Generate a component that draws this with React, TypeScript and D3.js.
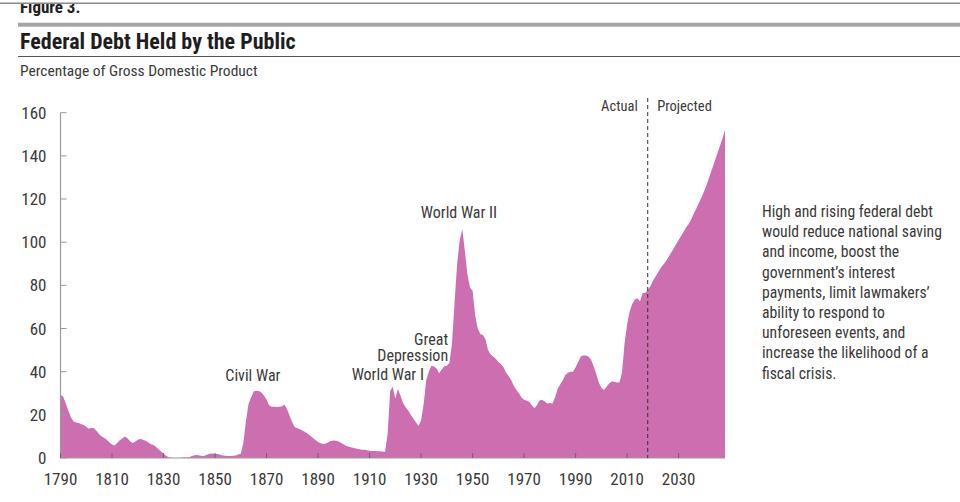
import * as d3 from "d3";

// Federal debt held by the public, % of GDP (CBO). Actual through 2018, projected after.
const firstYear = 1790;
const lastYear = 2048;
const projectionStart = 2018;

const debtShare: number[] = [
  // 1790s
  29.3, 28.5, 25.5, 22, 19, 17, 16.5, 16.2, 15.8, 15.3,
  // 1800s
  14.5, 13.5, 14, 13.8, 12.5, 11, 10, 9.3, 8.5, 7.2,
  // 1810s
  6.2, 5.8, 7, 8.2, 9, 10, 9.2, 7.8, 6.9, 7.5,
  // 1820s
  8.5, 8.8, 8.4, 8, 7.3, 6.5, 6, 5.2, 4.2, 3.1,
  // 1830s
  2, 1, 0.4, 0.1, 0, 0, 0, 0.1, 0.3, 0.2,
  // 1840s
  0.4, 0.9, 1.3, 1.4, 1.2, 0.9, 1.1, 1.6, 2.0, 2.1,
  // 1850s
  1.9, 1.8, 1.5, 1.2, 1.0, 0.9, 0.9, 1.0, 1.2, 1.6,
  // 1860s
  2, 7, 17, 25, 28, 30.8, 31.2, 31, 30.3, 29,
  // 1870s
  27, 24.5, 23.8, 23.7, 23.6, 23.8, 24, 24.7, 22.5, 19.5,
  // 1880s
  16.5, 14.2, 13.8, 13.3, 12.6, 12, 11.2, 10.3, 9.3, 8.3,
  // 1890s
  7.4, 6.8, 6.5, 6.7, 7.3, 7.9, 8.1, 8.0, 7.7, 7,
  // 1900s
  6.2, 5.6, 5.2, 4.9, 4.6, 4.3, 4.0, 3.8, 3.8, 3.6,
  // 1910s
  3.4, 3.3, 3.2, 3.1, 3.1, 3.0, 2.8, 11, 31, 33,
  // 1920s
  27.5, 32, 29, 25.5, 23.5, 22, 20, 18.2, 16.6, 14.8,
  // 1930s
  17.5, 25, 36, 40, 42.8, 42.4, 41.5, 39.3, 41, 42.4,
  // 1940s
  42.8, 44, 53, 72, 90, 101, 106, 96, 85, 79,
  // 1950s
  77.5, 66, 60, 57.5, 57, 55, 50, 48, 47, 46,
  // 1960s
  44.5, 43.5, 42, 39.5, 38, 36, 33.5, 31.5, 30, 28,
  // 1970s
  27, 26.5, 26, 24.5, 23, 24.5, 26.7, 27, 26.2, 25.3,
  // 1980s
  25.5, 25.3, 28, 32, 34, 36, 38.5, 39.5, 40, 40,
  // 1990s
  42, 44.5, 47, 47.5, 47.5, 47, 45.5, 42.5, 39, 35,
  // 2000s
  32.5, 31.5, 33, 34.5, 35.5, 35.3, 35, 35, 39.5, 53,
  // 2010s
  62, 68, 71.5, 73.5, 74, 72.5, 76.4, 76.5, 78, 79.5,
  // 2020s
  82, 84, 86, 88, 89.5, 91, 93, 95, 97, 99,
  // 2030s
  101, 103, 105, 107, 108.5, 111, 113.5, 116, 118.5, 121,
  // 2040s
  124, 127, 130.5, 134, 137.5, 141, 144.5, 148, 152,
];

const xTicks = [1790, 1810, 1830, 1850, 1870, 1890, 1910, 1930, 1950, 1970, 1990, 2010, 2030];
const yTicks = [0, 20, 40, 60, 80, 100, 120, 140, 160];

const eventLabels = [
  { lines: ["Civil War"], year: 1864.7, value: 35.8, anchor: "middle" },
  { lines: ["World War I"], year: 1931.1, value: 36, anchor: "end" },
  { lines: ["Great", "Depression"], year: 1940.5, value: 45.1, anchor: "end" },
  { lines: ["World War II"], year: 1944.7, value: 111, anchor: "middle" },
];

const noteLines = [
  "High and rising federal debt",
  "would reduce national saving",
  "and income, boost the",
  "government\u2019s interest",
  "payments, limit lawmakers\u2019",
  "ability to respond to",
  "unforeseen events, and",
  "increase the likelihood of a",
  "fiscal crisis.",
];

const font = "'Liberation Sans Narrow', 'Arial Narrow', 'Roboto Condensed', sans-serif";
const textColor = "#3a3a3a";
const fillColor = "#cd6eb0";
const labelLineGap = 16;

export default function App() {
  const width = 960;
  const height = 502;
  const margin = { left: 60.5, right: 235, top: 112.7, bottom: 44 };

  const data = debtShare.map((v, i) => ({ year: firstYear + i, value: v }));

  const x = d3
    .scaleLinear()
    .domain([firstYear, lastYear])
    .range([margin.left, width - margin.right]);
  const y = d3
    .scaleLinear()
    .domain([0, 160])
    .range([height - margin.bottom, margin.top]);

  const area = d3
    .area<{ year: number; value: number }>()
    .x((d) => x(d.year))
    .y0(y(0))
    .y1((d) => y(d.value));

  const x0 = x(firstYear);
  const x1 = x(lastYear);
  const yBase = y(0);
  const xSplit = x(projectionStart);

  return (
    <div style={{ position: "absolute", left: 0, top: 0 }}>
      <svg width={width} height={height} style={{ display: "block", fontFamily: font }}>
        <rect width={width} height={height} fill="#fff" />

        {/* header */}
        <text x={20} y={13} fontSize={17} fontWeight="bold" fill="#222">
          Figure 3.
        </text>
        <rect x={0} y={0} width={width} height={4} fill="#fff" />
        <rect x={0} y={2.5} width={width} height={1.5} fill="#8a8a8a" />
        <rect x={18} y={22.7} width={width - 18} height={4} fill="#a6a6a6" />
        <text x={20} y={48.5} fontSize={22} fontWeight="bold" fill="#1e1e1e">
          Federal Debt Held by the Public
        </text>
        <line x1={18} x2={width} y1={56.5} y2={56.5} stroke="#555" strokeWidth={1} />
        <text x={20} y={76} fontSize={15.5} fill={textColor}>
          Percentage of Gross Domestic Product
        </text>

        {/* area */}
        <path d={area(data) ?? ""} fill={fillColor} />

        {/* y axis */}
        <line x1={x0} x2={x0} y1={y(160)} y2={yBase} stroke="#9a9a9a" strokeWidth={1.2} />
        {yTicks.map((t) => (
          <g key={t}>
            <line x1={x0} x2={x0 + 6} y1={y(t)} y2={y(t)} stroke="#9a9a9a" strokeWidth={1} />
            <text
              x={x0 - 14}
              y={y(t)}
              dy="0.36em"
              textAnchor="end"
              fontSize={17}
              fill={textColor}
            >
              {t}
            </text>
          </g>
        ))}

        {/* x axis */}
        <line x1={x0} x2={x1} y1={yBase} y2={yBase} stroke="#9a9a9a" strokeWidth={1.2} />
        {xTicks.map((t) => (
          <g key={t}>
            <line x1={x(t)} x2={x(t)} y1={yBase} y2={yBase - 5} stroke="#7a5a70" strokeWidth={1} />
            <text x={x(t)} y={485} textAnchor="middle" fontSize={17} fill={textColor}>
              {t}
            </text>
          </g>
        ))}

        {/* actual / projected divider */}
        <line
          x1={xSplit}
          x2={xSplit}
          y1={98}
          y2={yBase}
          stroke="#333"
          strokeWidth={1}
          strokeDasharray="4 3"
        />
        <text x={xSplit - 10} y={110.5} textAnchor="end" fontSize={14.5} fill={textColor}>
          Actual
        </text>
        <text x={xSplit + 9.5} y={110.5} fontSize={14.5} fill={textColor}>
          Projected
        </text>

        {/* event labels */}
        {eventLabels.map((e) => (
          <text
            key={e.lines.join(" ")}
            x={x(e.year)}
            y={y(e.value) - (e.lines.length - 1) * labelLineGap}
            textAnchor={e.anchor}
            fontSize={16}
            fill={textColor}
          >
            {e.lines.map((l, i) => (
              <tspan key={l} x={x(e.year)} dy={i === 0 ? 0 : labelLineGap}>
                {l}
              </tspan>
            ))}
          </text>
        ))}

        {/* side note */}
        <text x={762} y={217} fontSize={15.7} fill={textColor}>
          {noteLines.map((l, i) => (
            <tspan key={l} x={762} dy={i === 0 ? 0 : 20.2}>
              {l}
            </tspan>
          ))}
        </text>
      </svg>
    </div>
  );
}
